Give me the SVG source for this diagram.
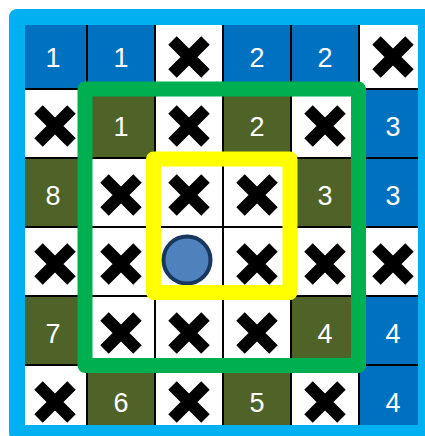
<svg xmlns="http://www.w3.org/2000/svg" xmlns:xlink="http://www.w3.org/1999/xlink" width="425" height="436" viewBox="0 0 425 436">
<style>
.b{fill:#0070C0}
.o{fill:#4F6228}
.w{fill:#FFFFFF}
.t{fill:#FFFFFF;font-family:"Liberation Sans",Arial,sans-serif;font-size:27px;text-anchor:middle}
.grid{stroke:#000;stroke-width:2;fill:none}
</style>
<defs>
<path id="x" d="M-16.5,-16.5L16.5,16.5M16.5,-16.5L-16.5,16.5" stroke="#000" stroke-width="12" fill="none"/>
</defs>
<rect x="0" y="0" width="425" height="436" fill="#FFFFFF"/>
<g id="cells">
<g id="r0c0"><rect class="b" x="19" y="20" width="68" height="69"/><text class="t" x="53" y="66.5">1</text></g>
<g id="r0c1"><rect class="b" x="87" y="20" width="68" height="69"/><text class="t" x="121" y="66.5">1</text></g>
<g id="r0c2"><rect class="w" x="155" y="20" width="68" height="69"/><use xlink:href="#x" x="189" y="57"/></g>
<g id="r0c3"><rect class="b" x="223" y="20" width="68" height="69"/><text class="t" x="257" y="66.5">2</text></g>
<g id="r0c4"><rect class="b" x="291" y="20" width="68" height="69"/><text class="t" x="325" y="66.5">2</text></g>
<g id="r0c5"><rect class="w" x="359" y="20" width="68" height="69"/><use xlink:href="#x" x="393" y="57"/></g>

<g id="r1c0"><rect class="w" x="19" y="89" width="68" height="69"/><use xlink:href="#x" x="55" y="126"/></g>
<g id="r1c1"><rect class="o" x="87" y="89" width="68" height="69"/><text class="t" x="121" y="135.5">1</text></g>
<g id="r1c2"><rect class="w" x="155" y="89" width="68" height="69"/><use xlink:href="#x" x="189" y="126"/></g>
<g id="r1c3"><rect class="o" x="223" y="89" width="68" height="69"/><text class="t" x="257" y="135.5">2</text></g>
<g id="r1c4"><rect class="w" x="291" y="89" width="68" height="69"/><use xlink:href="#x" x="325" y="126"/></g>
<g id="r1c5"><rect class="b" x="359" y="89" width="68" height="69"/><text class="t" x="393" y="135.5">3</text></g>

<g id="r2c0"><rect class="o" x="19" y="158" width="68" height="69"/><text class="t" x="53" y="204.5">8</text></g>
<g id="r2c1"><rect class="w" x="87" y="158" width="68" height="69"/><use xlink:href="#x" x="121" y="195"/></g>
<g id="r2c2"><rect class="w" x="155" y="158" width="68" height="69"/><use xlink:href="#x" x="189" y="195"/></g>
<g id="r2c3"><rect class="w" x="223" y="158" width="68" height="69"/><use xlink:href="#x" x="257" y="195"/></g>
<g id="r2c4"><rect class="o" x="291" y="158" width="68" height="69"/><text class="t" x="325" y="204.5">3</text></g>
<g id="r2c5"><rect class="b" x="359" y="158" width="68" height="69"/><text class="t" x="393" y="204.5">3</text></g>

<g id="r3c0"><rect class="w" x="19" y="227" width="68" height="69"/><use xlink:href="#x" x="55" y="264"/></g>
<g id="r3c1"><rect class="w" x="87" y="227" width="68" height="69"/><use xlink:href="#x" x="121" y="264"/></g>
<g id="r3c2"><rect class="w" x="155" y="227" width="68" height="69"/></g>
<g id="r3c3"><rect class="w" x="223" y="227" width="68" height="69"/><use xlink:href="#x" x="257" y="264"/></g>
<g id="r3c4"><rect class="w" x="291" y="227" width="68" height="69"/><use xlink:href="#x" x="325" y="264"/></g>
<g id="r3c5"><rect class="w" x="359" y="227" width="68" height="69"/><use xlink:href="#x" x="393" y="264"/></g>

<g id="r4c0"><rect class="o" x="19" y="296" width="68" height="69"/><text class="t" x="53" y="342.5">7</text></g>
<g id="r4c1"><rect class="w" x="87" y="296" width="68" height="69"/><use xlink:href="#x" x="121" y="333"/></g>
<g id="r4c2"><rect class="w" x="155" y="296" width="68" height="69"/><use xlink:href="#x" x="189" y="333"/></g>
<g id="r4c3"><rect class="w" x="223" y="296" width="68" height="69"/><use xlink:href="#x" x="257" y="333"/></g>
<g id="r4c4"><rect class="o" x="291" y="296" width="68" height="69"/><text class="t" x="325" y="342.5">4</text></g>
<g id="r4c5"><rect class="b" x="359" y="296" width="68" height="69"/><text class="t" x="393" y="342.5">4</text></g>

<g id="r5c0"><rect class="w" x="19" y="365" width="68" height="71"/><use xlink:href="#x" x="55" y="402"/></g>
<g id="r5c1"><rect class="o" x="87" y="365" width="68" height="71"/><text class="t" x="121" y="411.5">6</text></g>
<g id="r5c2"><rect class="w" x="155" y="365" width="68" height="71"/><use xlink:href="#x" x="189" y="402"/></g>
<g id="r5c3"><rect class="o" x="223" y="365" width="68" height="71"/><text class="t" x="257" y="411.5">5</text></g>
<g id="r5c4"><rect class="w" x="291" y="365" width="68" height="71"/><use xlink:href="#x" x="325" y="402"/></g>
<g id="r5c5"><rect class="b" x="359" y="365" width="68" height="71"/><text class="t" x="393" y="411.5">4</text></g>
</g>
<g id="gridlines" class="grid">
<path d="M87,20V436M155,20V436M223,20V436M291,20V436M359,20V436M19,89H427M19,158H427M19,227H427M19,296H427M19,365H427"/>
</g>
<g id="piece"><circle cx="187" cy="260" r="23.5" fill="#4F81BD" stroke="#17375E" stroke-width="4"/></g>
<g id="green-frame"><rect x="85" y="89" width="273.5" height="276.5" fill="none" stroke="#00B050" stroke-width="15" stroke-linejoin="round"/></g>
<g id="yellow-frame"><rect x="153.5" y="159" width="136.5" height="133.5" fill="none" stroke="#FFFF00" stroke-width="15" stroke-linejoin="round"/></g>
<g id="blue-border"><rect x="17" y="17" width="409" height="416" fill="none" stroke="#00B0F0" stroke-width="16" stroke-linejoin="round"/></g>
</svg>
